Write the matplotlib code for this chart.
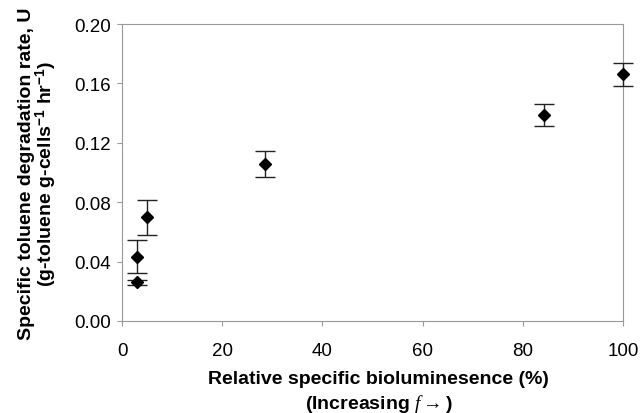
import matplotlib
matplotlib.use("Agg")
import matplotlib.pyplot as plt

# Data
bioluminescence = [2.9, 2.9, 5.0, 28.6, 84.3, 100.0]
rate = [0.026, 0.0433, 0.0698, 0.106, 0.1385, 0.166]
rate_err = [0.0015, 0.011, 0.012, 0.0087, 0.0073, 0.0075]

xticks = [0, 20, 40, 60, 80, 100]
yticks = [0.00, 0.04, 0.08, 0.12, 0.16, 0.20]

plt.rcParams['font.family'] = ['Liberation Sans', 'DejaVu Sans']
plt.rcParams['mathtext.fontset'] = 'custom'
plt.rcParams['mathtext.rm'] = 'Liberation Sans:bold'
plt.rcParams['mathtext.bf'] = 'Liberation Sans:bold'
plt.rcParams['mathtext.it'] = 'Liberation Serif:italic'

W, H = 641, 414
fig = plt.figure(figsize=(W/100, H/100), dpi=100)
ax = fig.add_axes([122/W, 1-322/H, (623-122)/W, (322-25)/H])

ax.errorbar(bioluminescence, rate, yerr=rate_err, fmt='D', color='black',
            markersize=6, ecolor='#222222', elinewidth=1.0, capsize=7,
            capthick=1.0, clip_on=False, zorder=3)

ax.set_xlim(0, 100)
ax.set_ylim(0, 0.20)
ax.set_xticks(xticks)
ax.set_xticklabels([str(v) for v in xticks])
ax.set_yticks(yticks)
ax.set_yticklabels([f"{v:.2f}" for v in yticks])

for s in ax.spines.values():
    s.set_color('#999999')
    s.set_linewidth(0.8)
ax.tick_params(axis='both', direction='out', length=3.8, width=0.8,
               color='#999999', labelsize=13.5, labelcolor='black')
ax.tick_params(axis='x', pad=11)
ax.tick_params(axis='y', pad=4)

ax.set_xlabel("Relative specific biolumine" + "sence (%)\n(Increasing $\\mathit{f}\\rightarrow$)",
              fontsize=14, fontweight='bold', linespacing=1.3)
ax.xaxis.set_label_coords((378.5-122)/501, (322-371)/297)
ax.set_ylabel("Specific toluene degradation rate, U\n(g-toluene g-cells$^{-1}$ hr$^{-1}$)",
              fontsize=14, fontweight='bold', linespacing=0.92)
ax.yaxis.set_label_coords((59-122)/501, 0.5)

fig.savefig("out.png", dpi=100)
